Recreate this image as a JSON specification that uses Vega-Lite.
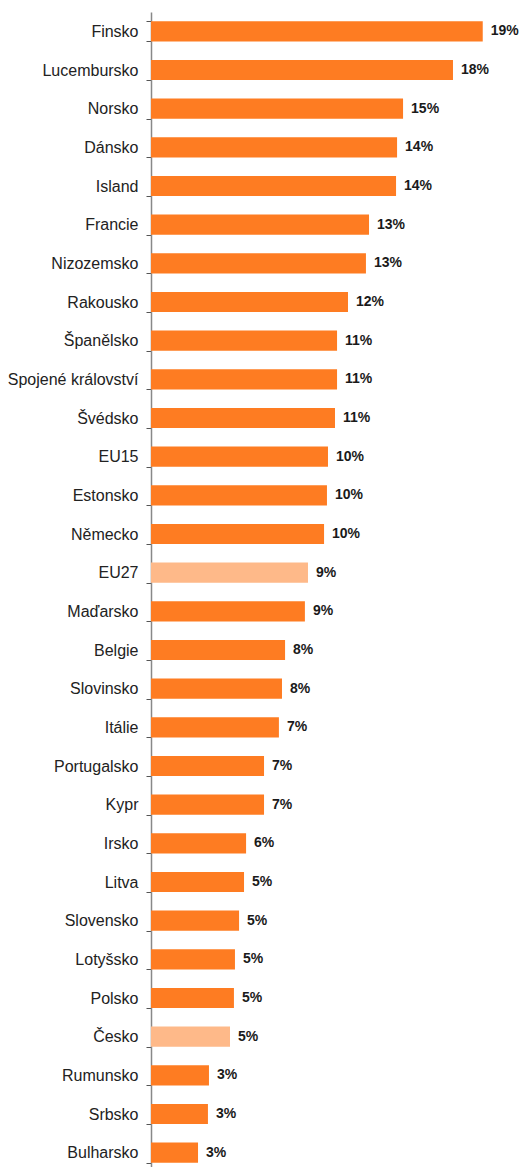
{
  "$schema": "https://vega.github.io/schema/vega-lite/v6.json",
  "width": 342,
  "height": 1160,
  "autosize": "none",
  "padding": {"left": 151, "top": 12, "right": 29, "bottom": 0},
  "background": "white",
  "config": {"view": {"stroke": null}},
  "data": {
    "values": [
      {"country": "Finsko", "value": 0.194, "group": "other"},
      {"country": "Lucembursko", "value": 0.1766, "group": "other"},
      {"country": "Norsko", "value": 0.1474, "group": "other"},
      {"country": "Dánsko", "value": 0.1439, "group": "other"},
      {"country": "Island", "value": 0.1433, "group": "other"},
      {"country": "Francie", "value": 0.1275, "group": "other"},
      {"country": "Nizozemsko", "value": 0.1257, "group": "other"},
      {"country": "Rakousko", "value": 0.1152, "group": "other"},
      {"country": "Španělsko", "value": 0.1088, "group": "other"},
      {"country": "Spojené království", "value": 0.1088, "group": "other"},
      {"country": "Švédsko", "value": 0.1076, "group": "other"},
      {"country": "EU15", "value": 0.1035, "group": "other"},
      {"country": "Estonsko", "value": 0.1029, "group": "other"},
      {"country": "Německo", "value": 0.1012, "group": "other"},
      {"country": "EU27", "value": 0.0918, "group": "highlight"},
      {"country": "Maďarsko", "value": 0.09, "group": "other"},
      {"country": "Belgie", "value": 0.0784, "group": "other"},
      {"country": "Slovinsko", "value": 0.0766, "group": "other"},
      {"country": "Itálie", "value": 0.0748, "group": "other"},
      {"country": "Portugalsko", "value": 0.0661, "group": "other"},
      {"country": "Kypr", "value": 0.0661, "group": "other"},
      {"country": "Irsko", "value": 0.0556, "group": "other"},
      {"country": "Litva", "value": 0.0544, "group": "other"},
      {"country": "Slovensko", "value": 0.0515, "group": "other"},
      {"country": "Lotyšsko", "value": 0.0491, "group": "other"},
      {"country": "Polsko", "value": 0.0485, "group": "other"},
      {"country": "Česko", "value": 0.0462, "group": "highlight"},
      {"country": "Rumunsko", "value": 0.0339, "group": "other"},
      {"country": "Srbsko", "value": 0.0333, "group": "other"},
      {"country": "Bulharsko", "value": 0.0275, "group": "other"}
    ]
  },
  "encoding": {
    "y": {
      "field": "country",
      "type": "nominal",
      "sort": null,
      "scale": {"paddingInner": 0.48, "paddingOuter": 0.24},
      "axis": {
        "title": null,
        "domainColor": "#888888",
        "domainWidth": 1.5,
        "tickColor": "#555555",
        "tickSize": 5,
        "tickWidth": 1,
        "tickBand": "extent",
        "labelFont": "Liberation Sans",
        "labelFontSize": 16,
        "labelColor": "#222222",
        "labelPadding": 8,
        "labelLimit": 200
      }
    },
    "x": {
      "field": "value",
      "type": "quantitative",
      "scale": {"domain": [0, 0.2]},
      "axis": null
    }
  },
  "layer": [
    {
      "mark": {"type": "bar"},
      "encoding": {
        "color": {
          "field": "group",
          "type": "nominal",
          "scale": {"domain": ["other", "highlight"], "range": ["#FE7C22", "#FEB989"]},
          "legend": null
        }
      }
    },
    {
      "mark": {"type": "text", "align": "left", "baseline": "middle", "dx": 8, "fontWeight": "bold", "fontSize": 14, "font": "Liberation Sans", "color": "#1a1a1a"},
      "encoding": {
        "text": {"field": "value", "type": "quantitative", "format": ".0%"}
      }
    }
  ]
}
